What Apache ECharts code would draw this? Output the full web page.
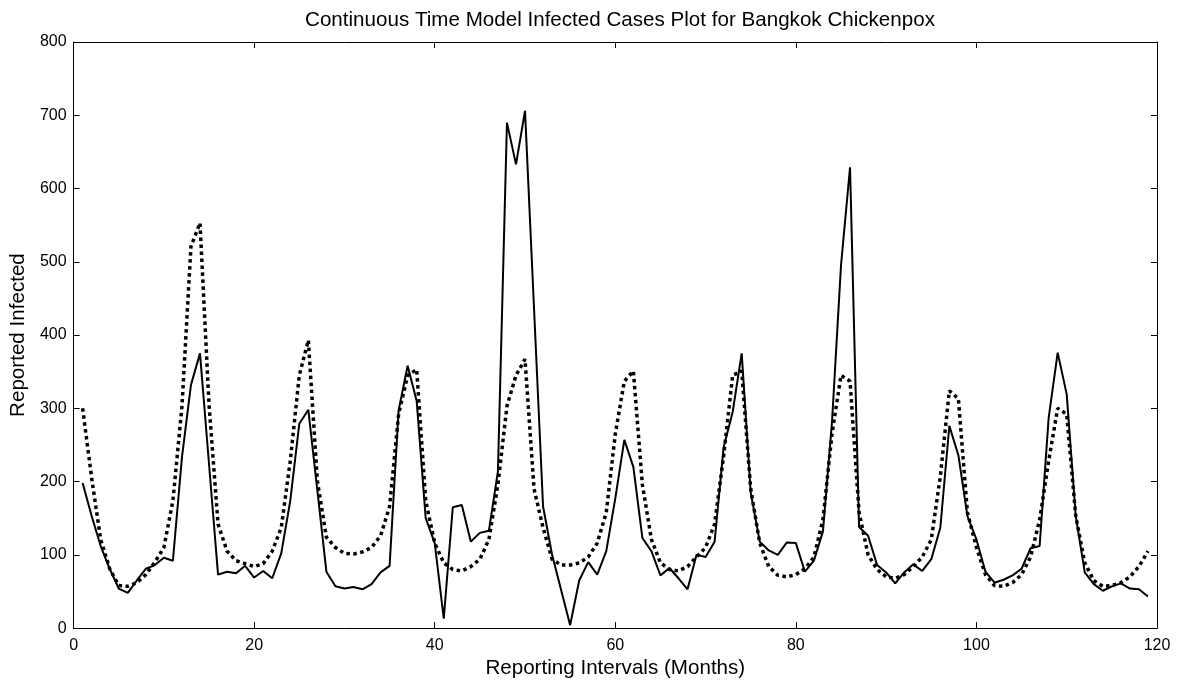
<!DOCTYPE html>
<html>
<head>
<meta charset="utf-8">
<script src="https://cdn.jsdelivr.net/npm/echarts@6/dist/echarts.min.js"></script>
<style>html,body{margin:0;padding:0;background:#fff}#c{width:1178px;height:684px}</style>
</head>
<body>
<div id="c"></div>
<script>
var titleText = 'Continuous Time Model Infected Cases Plot for Bangkok Chickenpox';
var xName = 'Reporting Intervals (Months)';
var yName = 'Reported Infected';
var xTicks = [0, 20, 40, 60, 80, 100, 120];
var yTicks = [0, 100, 200, 300, 400, 500, 600, 700, 800];

// Reported (solid), months 1..119
var reported = [198,153,112,81,54,48,65,81,86,96,92,233,332,375,224,73,77,75,85,69,
78,68,102,174,279,298,188,77,57,54,56,53,60,76,85,297,358,310,150,116,
13,165,168,118,130,133,214,690,633,706,436,166,100,52,4,65,90,73,105,177,
257,220,123,105,72,82,68,53,100,97,118,247,295,375,185,118,106,100,117,116,
77,92,132,281,495,629,138,126,86,76,61,76,87,78,94,137,276,236,153,121,
77,62,66,72,81,109,112,287,376,319,153,76,60,51,57,61,54,53,43];

// Model (dotted), months 1..119
var model = [300,205,121,81,58,57,62,73,90,110,174,302,521,553,305,142,105,92,88,84,
88,105,137,228,345,393,201,124,110,102,101,104,110,126,166,292,345,353,174,116,
89,80,78,84,94,121,196,303,345,367,190,137,94,86,86,89,97,116,158,265,
337,351,196,121,89,80,78,84,97,110,142,235,345,351,190,116,84,72,70,73,
81,97,148,265,345,337,158,100,80,70,68,73,84,97,121,207,324,313,158,110,
73,58,57,62,73,97,148,228,300,292,153,89,65,57,58,62,70,84,105];

var months = reported.map(function(_, i){ return i + 1; });
var solidData = months.map(function(m, i){ return [m, reported[i]]; });
var dottedData = months.map(function(m, i){ return [m, model[i]]; });

var FONT = '"Liberation Sans", Arial, sans-serif';
var chart = echarts.init(document.getElementById('c'), null, {renderer: 'canvas'});

function baseX(pos, show){
  return {
    type: 'value', position: pos, min: xTicks[0], max: xTicks[xTicks.length-1], interval: 20,
    axisLine: {show: true, onZero: false, lineStyle: {color: '#000', width: 1}},
    axisTick: {show: true, inside: true, length: 6, lineStyle: {color: '#000', width: 1}},
    axisLabel: {show: show, color: '#000', fontSize: 16, fontFamily: FONT, margin: 9},
    splitLine: {show: false}
  };
}
function baseY(pos, show){
  return {
    type: 'value', position: pos, min: yTicks[0], max: yTicks[yTicks.length-1], interval: 100,
    axisLine: {show: true, onZero: false, lineStyle: {color: '#000', width: 1}},
    axisTick: {show: true, inside: true, length: 6, lineStyle: {color: '#000', width: 1}},
    axisLabel: {show: show, color: '#000', fontSize: 16, fontFamily: FONT, margin: 7},
    splitLine: {show: false}
  };
}

var xa = baseX('bottom', true);
xa.name = xName; xa.nameLocation = 'middle'; xa.nameGap = 27;
xa.nameTextStyle = {color: '#000', fontSize: 20.6, fontFamily: FONT};
var xb = baseX('top', false);
var ya = baseY('left', true);
ya.name = yName; ya.nameLocation = 'middle'; ya.nameGap = 44;
ya.nameTextStyle = {color: '#000', fontSize: 20.6, fontFamily: FONT};
var yb = baseY('right', false);

chart.setOption({
  animation: false,
  backgroundColor: '#fff',
  title: {
    text: titleText, left: 615, top: 5, textAlign: 'center',
    textStyle: {color: '#000', fontSize: 20.6, fontWeight: 'normal', fontFamily: FONT}
  },
  grid: {left: 73, right: 21, top: 42, bottom: 51, containLabel: false},
  xAxis: [xa, xb],
  yAxis: [ya, yb],
  series: [
    {
      type: 'line', xAxisIndex: 0, yAxisIndex: 0, data: solidData,
      showSymbol: false, symbol: 'none',
      lineStyle: {color: '#000', width: 2}
    },
    {
      type: 'line', xAxisIndex: 0, yAxisIndex: 0, data: dottedData,
      showSymbol: false, symbol: 'none',
      lineStyle: {color: '#000', width: 3.5, type: [3.5, 3.5], cap: 'butt'}
    }
  ]
});
</script>
</body>
</html>
